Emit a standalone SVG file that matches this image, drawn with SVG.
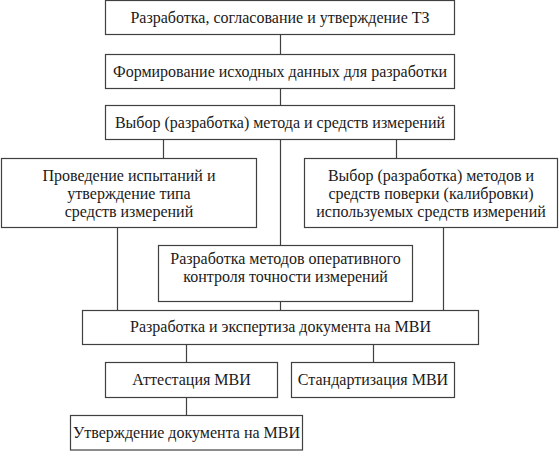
<svg xmlns="http://www.w3.org/2000/svg" width="559" height="463" viewBox="0 0 559 463">
<style>
.box{fill:#fff;stroke:#404040;stroke-width:1.2}
.t{font-family:"Times New Roman","Liberation Serif","DejaVu Serif",serif;font-size:16px;fill:#1a1a1a;text-anchor:middle}
.c{stroke:#404040;stroke-width:1.2;fill:none}
</style>
<rect width="559" height="463" fill="#fff"/>
<g id="connectors">
<path class="c" d="M280.5 35V54.5M280.5 88.5V105.5M163.5 139.5V158.5M396.5 139.5V158.5M280.5 139.5V245.5M280.5 301.5V310.5M117.5 227.5V310.5M443.5 227.5V310.5M186.5 344.5V362.5M373.5 344.5V362.5M186.5 397.5V415.5"/>
</g>
<g id="n1"><rect class="box" x="105.5" y="0.5" width="349" height="34"/><text class="t" x="280" y="22.5">Разработка, согласование и утверждение ТЗ</text></g>
<g id="n2"><rect class="box" x="105.5" y="54.5" width="349" height="34"/><text class="t" x="280" y="76.5">Формирование исходных данных для разработки</text></g>
<g id="n3"><rect class="box" x="105.5" y="105.5" width="349" height="34"/><text class="t" x="280" y="127.5">Выбор (разработка) метода и средств измерений</text></g>
<g id="n4"><rect class="box" x="1.5" y="158.5" width="255" height="69"/><text class="t" x="129" y="180.5">Проведение испытаний и</text><text class="t" x="129" y="198.5">утверждение типа</text><text class="t" x="129" y="216.5">средств измерений</text></g>
<g id="n5"><rect class="box" x="304.5" y="158.5" width="253" height="69"/><text class="t" x="431" y="180.5">Выбор (разработка) методов и</text><text class="t" x="431" y="198.5">средств поверки (калибровки)</text><text class="t" x="431" y="216.5">используемых средств измерений</text></g>
<g id="n6"><rect class="box" x="158.5" y="245.5" width="254" height="56"/><text class="t" x="285.5" y="263.5">Разработка методов оперативного</text><text class="t" x="285.5" y="281.5">контроля точности измерений</text></g>
<g id="n7"><rect class="box" x="82.5" y="310.5" width="396" height="34"/><text class="t" x="280.5" y="331.5">Разработка и экспертиза документа на МВИ</text></g>
<g id="n8"><rect class="box" x="105.5" y="362.5" width="172" height="35"/><text class="t" x="191.5" y="384.5">Аттестация МВИ</text></g>
<g id="n10"><rect class="box" x="291.5" y="362.5" width="163" height="35"/><text class="t" x="373" y="384.5">Стандартизация МВИ</text></g>
<g id="n9"><rect class="box" x="70.5" y="415.5" width="232" height="34.5"/><text class="t" x="186.5" y="437.5">Утверждение документа на МВИ</text></g>
</svg>
